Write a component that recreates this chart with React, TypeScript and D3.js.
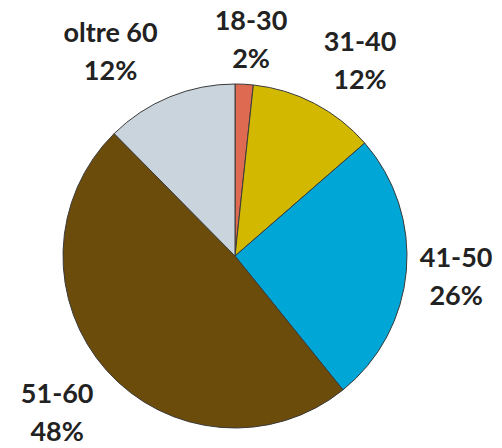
import React from "react";
import * as d3 from "d3";

const categories = ["18-30", "31-40", "41-50", "51-60", "oltre 60"];
const values = [1.7, 11.9, 25.6, 48.4, 12.4];
const colors = ["#df6a52", "#d3b800", "#00a6d6", "#6c4c0b", "#c9d4dc"];
// label nudges from the centroid of the label ring (layout only)
const labelNudge: [number, number][] = [
  [4, -1],
  [21, -6],
  [-3, -9],
  [-10, -3],
  [-39, -6],
];

const W = 502;
const H = 448;
const CX = 235;
const CY = 256;
const R = 172;
const LABEL_R = 225;

export default function App() {
  const total = d3.sum(values);
  const pie = d3
    .pie<number>()
    .sort(null)
    .value((d) => d)(values);
  const arc = d3.arc<d3.PieArcDatum<number>>().innerRadius(0).outerRadius(R);
  const labelArc = d3
    .arc<d3.PieArcDatum<number>>()
    .innerRadius(LABEL_R)
    .outerRadius(LABEL_R);

  return (
    <svg
      width={W}
      height={H}
      style={{ position: "absolute", left: 0, top: 0, background: "#fff" }}
    >
      <g transform={`translate(${CX},${CY})`}>
        {pie.map((p, i) => (
          <path
            key={i}
            d={arc(p) || ""}
            fill={colors[i]}
            stroke="#3a3a3a"
            strokeWidth={1}
          />
        ))}
        {pie.map((p, i) => {
          const [x, y] = labelArc.centroid(p);
          const lx = x + labelNudge[i][0];
          const ly = y + labelNudge[i][1];
          const pct = Math.round((values[i] / total) * 100) + "%";
          return (
            <text
              key={"l" + i}
              textAnchor="middle"
              fontFamily="Lato, 'Open Sans', sans-serif"
              fontWeight="bold"
              fontSize={27}
              fill="#222"
            >
              <tspan x={lx} y={ly}>
                {categories[i]}
              </tspan>
              <tspan x={lx} y={ly + 38}>
                {pct}
              </tspan>
            </text>
          );
        })}
      </g>
    </svg>
  );
}
